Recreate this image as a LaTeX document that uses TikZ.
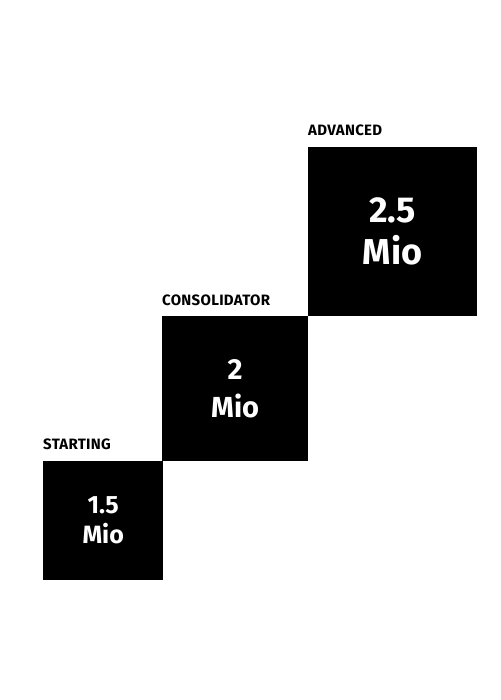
\documentclass[tikz,border=0pt]{standalone}
\usepackage{fontspec}
\setmainfont{Fira Sans}
\begin{document}
\begin{tikzpicture}[x=1pt,y=-1pt,
  stepbox/.style={fill=black,draw=none,anchor=north west,inner sep=0pt,text=white,align=center,font=\bfseries},
  steplabel/.style={anchor=base west,inner sep=0pt,font=\bfseries\fontsize{15}{15}\selectfont\addfontfeature{LetterSpace=2}}]
\useasboundingbox (0,0) rectangle (500,700);
\fill[white] (0,0) rectangle (500,700);
\node[stepbox,minimum width=120pt,minimum height=119pt,font=\bfseries\fontsize{25}{30}\selectfont] (b1) at (43,461) {1.5\\Mio};
\node[stepbox,minimum width=146pt,minimum height=145pt,font=\bfseries\fontsize{29}{38}\selectfont] (b2) at (162,316) {2\\Mio};
\node[stepbox,minimum width=169pt,minimum height=169pt,font=\bfseries\fontsize{36}{42}\selectfont] (b3) at (308,147) {2.5\\Mio};
\node[steplabel] (l1) at ([yshift=12pt]b1.north west) {STARTING};
\node[steplabel] (l2) at ([yshift=11pt]b2.north west) {CONSOLIDATOR};
\node[steplabel] (l3) at ([yshift=11pt]b3.north west) {ADVANCED};
\end{tikzpicture}
\end{document}
